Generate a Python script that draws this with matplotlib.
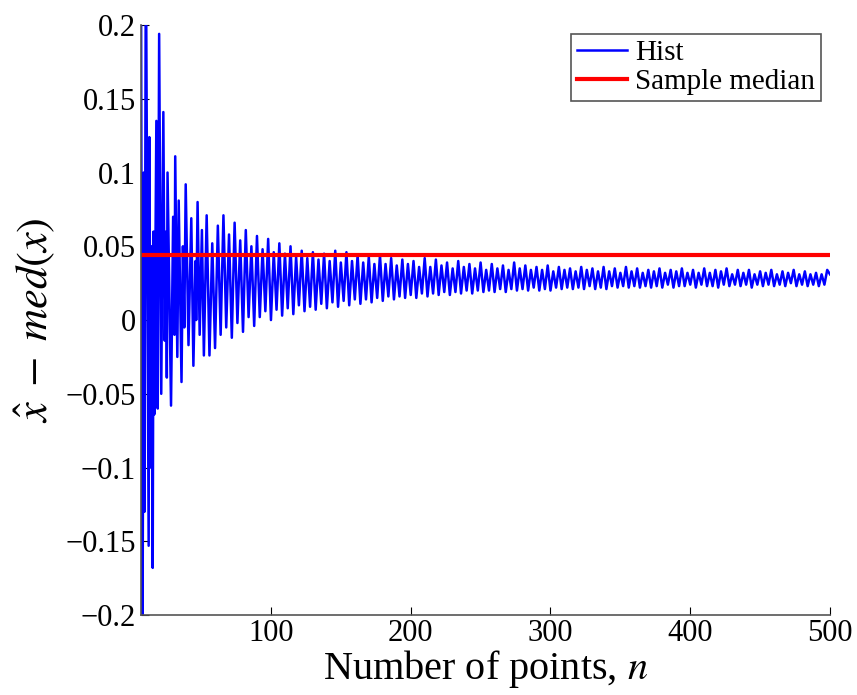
import numpy as np
import matplotlib
matplotlib.use("Agg")
import matplotlib.pyplot as plt

plt.rcParams['font.family'] = ['Liberation Serif', 'DejaVu Serif']
plt.rcParams['mathtext.fontset'] = 'stix'

# first part, turning points read one by one (n, value)
early_n = [7, 8, 9, 9.5, 10.5, 12.5, 13, 14, 14.5, 15.4, 16, 16.5, 18, 19, 20,
           21.5, 23, 24, 25, 25.5, 26, 28.5, 30, 31, 31.5, 33, 34, 36, 37, 38,
           39, 41, 43, 44.5, 46, 46.5, 47.5, 49, 50.6, 52]
early_v = [0.26, -0.26, 0.10, -0.13, 0.26, -0.153, 0.124, -0.10, 0.05, -0.168,
           0.06, -0.064, 0.135, -0.06, 0.194, -0.05, 0.141, -0.014, 0.06, -0.039,
           0.100, -0.058, 0.07, -0.01, 0.111, -0.025, 0.081, -0.042, 0.05, -0.005,
           0.092, -0.017, 0.069, -0.031, 0.04, 0.0, 0.080, -0.01, 0.061, -0.024]

# later part: peaks at n = 54, 58, ..., 498 and troughs at n = 56, 60, ..., 500
peak_v = [0.071, 0.052, 0.064, 0.071, 0.058, 0.066, 0.054, 0.061, 0.050, 0.057,
          0.048, 0.055, 0.046, 0.052, 0.045, 0.050, 0.043, 0.047, 0.042, 0.046,
          0.041, 0.045, 0.040, 0.047, 0.039, 0.046, 0.040, 0.044, 0.039, 0.043,
          0.038, 0.044, 0.038, 0.042, 0.037, 0.041, 0.038, 0.040, 0.036, 0.042,
          0.036, 0.041, 0.037, 0.039, 0.035, 0.040, 0.036, 0.038, 0.035, 0.039,
          0.034, 0.038, 0.035, 0.037, 0.034, 0.039, 0.035, 0.037, 0.034, 0.036,
          0.034, 0.037, 0.033, 0.036, 0.034, 0.035, 0.033, 0.036, 0.034, 0.035,
          0.033, 0.036, 0.033, 0.035, 0.032, 0.036, 0.033, 0.035, 0.032, 0.034,
          0.033, 0.035, 0.032, 0.034, 0.033, 0.035, 0.032, 0.034, 0.032, 0.035,
          0.032, 0.034, 0.033, 0.035, 0.031, 0.034, 0.032, 0.034, 0.031, 0.033,
          0.032, 0.034, 0.031, 0.033, 0.032, 0.034, 0.031, 0.033, 0.031, 0.032,
          0.031, 0.034]
trough_v = [-0.024, -0.019, -0.010, -0.005, -0.012, -0.002, -0.008, 0.002, -0.004, 0.002,
            0.006, 0.000, 0.007, 0.003, 0.008, 0.004, 0.010, 0.006, 0.009, 0.007,
            0.011, 0.008, 0.012, 0.009, 0.013, 0.010, 0.014, 0.011, 0.014, 0.012,
            0.015, 0.013, 0.016, 0.014, 0.016, 0.015, 0.017, 0.015, 0.018, 0.016,
            0.018, 0.017, 0.019, 0.017, 0.019, 0.018, 0.020, 0.018, 0.020, 0.019,
            0.020, 0.019, 0.021, 0.019, 0.021, 0.020, 0.021, 0.020, 0.022, 0.020,
            0.021, 0.020, 0.022, 0.021, 0.022, 0.021, 0.022, 0.021, 0.023, 0.021,
            0.022, 0.021, 0.023, 0.022, 0.023, 0.022, 0.023, 0.022, 0.023, 0.022,
            0.023, 0.022, 0.024, 0.022, 0.023, 0.023, 0.024, 0.022, 0.024, 0.023,
            0.023, 0.022, 0.024, 0.023, 0.024, 0.023, 0.024, 0.022, 0.024, 0.023,
            0.024, 0.023, 0.024, 0.023, 0.025, 0.023, 0.024, 0.023, 0.024, 0.023,
            0.024, 0.031]

median_val = 0.044

peak_n = np.arange(54, 499, 4)
trough_n = np.arange(56, 501, 4)
late_n = np.ravel(np.column_stack([peak_n, trough_n]))
late_v = np.ravel(np.column_stack([peak_v, trough_v]))

n = np.concatenate([early_n, late_n])
v = np.concatenate([early_v, late_v])

fig = plt.figure(figsize=(8.57, 6.95), dpi=100)
ax = fig.add_axes([0.1645, 0.115, 0.804, 0.849])

ax.plot(n, v, color=(0, 0, 1), lw=1.8, label='Hist')
ax.plot([7, 500], [median_val, median_val], color=(1, 0, 0), lw=3, label='Sample median')

ax.set_xlim(7, 500)
ax.set_ylim(-0.2, 0.2)
ax.set_xticks([100, 200, 300, 400, 500])
ax.set_yticks([-0.2, -0.15, -0.1, -0.05, 0, 0.05, 0.1, 0.15, 0.2])
ax.set_yticklabels(['\u22120.2', '\u22120.15', '\u22120.1', '\u22120.05', '0',
                    '0.05', '0.1', '0.15', '0.2'])
ax.tick_params(direction='in', length=6, labelsize=22, colors='black')
ax.tick_params(axis='x', pad=3)
ax.spines['top'].set_visible(False)
ax.spines['right'].set_visible(False)
for s in ['left', 'bottom']:
    ax.spines[s].set_color('#555555')
    ax.spines[s].set_linewidth(1.2)

ax.set_xlabel('Number of points, $n$', fontsize=29, labelpad=0)
ax.set_ylabel(r'$\hat{x}\;-\;med(x)$', fontsize=32, labelpad=6)

leg = ax.legend(loc='upper right', fontsize=21, fancybox=False, framealpha=1,
                edgecolor='#555555', handlelength=1.7, handletextpad=0.3,
                borderpad=0.2, labelspacing=0.1, borderaxespad=0.3)
leg.get_frame().set_linewidth(1.2)

fig.savefig('out.png', dpi=100)
